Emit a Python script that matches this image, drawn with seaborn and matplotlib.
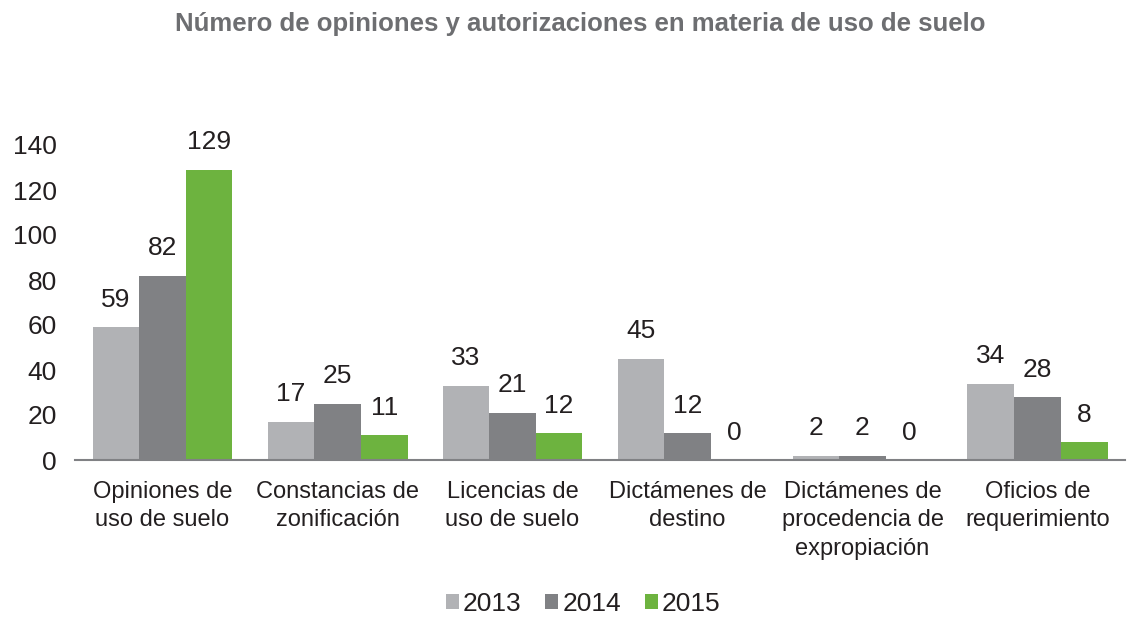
import matplotlib
matplotlib.use("Agg")
import matplotlib.pyplot as plt
import seaborn as sns
import pandas as pd

categories = [
    "Opiniones de\nuso de suelo",
    "Constancias de\nzonificación",
    "Licencias de\nuso de suelo",
    "Dictámenes de\ndestino",
    "Dictámenes de\nprocedencia de\nexpropiación",
    "Oficios de\nrequerimiento",
]
years = ["2013", "2014", "2015"]
values_2013 = [59, 17, 33, 45, 2, 34]
values_2014 = [82, 25, 21, 12, 2, 28]
values_2015 = [129, 11, 12, 0, 0, 8]
colors = ["#B1B2B5", "#808184", "#6DB33F"]
y_ticks = [0, 20, 40, 60, 80, 100, 120, 140]

df = pd.DataFrame({
    "categoria": categories * 3,
    "año": [years[0]] * 6 + [years[1]] * 6 + [years[2]] * 6,
    "valor": values_2013 + values_2014 + values_2015,
})

sns.set_theme(style="white")
plt.rcParams["font.family"] = ["Liberation Sans", "DejaVu Sans"]

text_color = "#231F20"

fig = plt.figure(figsize=(11.27, 6.18), dpi=100)
ax = fig.add_axes([75 / 1127, 1 - 460 / 618, 1050 / 1127, 315 / 618])

sns.barplot(data=df, x="categoria", y="valor", hue="año", palette=colors,
            order=categories, hue_order=years, width=0.8, saturation=1,
            linewidth=0, ax=ax, legend=True)

ax.set_ylim(0, 140)
ax.set_yticks(y_ticks)
ax.set_xlabel("")
ax.set_ylabel("")
for s in ["top", "right", "left"]:
    ax.spines[s].set_visible(False)
ax.spines["bottom"].set_color("#808184")
ax.spines["bottom"].set_linewidth(1.5)
ax.tick_params(axis="y", length=0, labelsize=19, colors=text_color, pad=13)
ax.tick_params(axis="x", length=0, labelsize=17, colors=text_color, pad=15)
for lbl in ax.get_xticklabels():
    lbl.set_linespacing(1.38)

for container in ax.containers:
    ax.bar_label(container, fmt="%d", padding=11, fontsize=19,
                 color=text_color, clip_on=False)

handles, labels = ax.get_legend_handles_labels()
ax.legend(handles, labels, loc="center", bbox_to_anchor=(583 / 1127, 1 - 604 / 618),
          bbox_transform=fig.transFigure, ncol=3, frameon=False,
          fontsize=19, handlelength=0.5, handleheight=0.5, handletextpad=0.15,
          columnspacing=0.9, labelcolor=text_color)

fig.text(580 / 1127, 1 - 24 / 618,
         "Número de opiniones y autorizaciones en materia de uso de suelo",
         ha="center", va="center", fontsize=18.5, fontweight="bold", color="#6D6E71")

fig.savefig("out.png", dpi=100)
